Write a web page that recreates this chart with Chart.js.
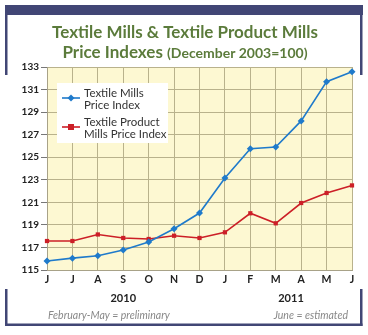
<!DOCTYPE html>
<html>
<head>
<meta charset="utf-8">
<script src="https://cdn.jsdelivr.net/npm/chart.js@4.4.1/dist/chart.umd.min.js"></script>
<style>
  html, body { margin: 0; padding: 0; background: #fff; }
  #wrap { position: relative; width: 368px; height: 335px; }
</style>
</head>
<body>
<div id="wrap"><canvas id="priceChart" width="368" height="335"></canvas></div>
<script>
// June 2010 - June 2011
const months = ['J', 'J', 'A', 'S', 'O', 'N', 'D', 'J', 'F', 'M', 'A', 'M', 'J'];
const textileMills = [115.8, 116.05, 116.27, 116.77, 117.48, 118.66, 120.05, 123.15, 125.75, 125.9, 128.22, 131.7, 132.58];
const textileProductMills = [117.57, 117.57, 118.15, 117.84, 117.75, 118.04, 117.84, 118.34, 120.03, 119.14, 120.94, 121.83, 122.5];
const yTicks = [115, 117, 119, 121, 123, 125, 127, 129, 131, 133];

const seriesNames = [['Textile Mills', 'Price Index'], ['Textile Product', 'Mills Price Index']];
const years = [{ label: '2010', at: 3 }, { label: '2011', at: 9.6 }];

const NAVY = '#414675';
const GREEN = '#5b7b3b';
const BLUE = '#1f7acb';
const RED = '#cc1f27';
const GRID = '#b9b28c';

// frame, title, plot background
const decor = {
  id: 'decor',
  beforeDraw(chart) {
    const { ctx, chartArea: a } = chart;
    ctx.save();
    ctx.fillStyle = NAVY;
    ctx.fillRect(5, 5, 358, 10);
    ctx.fillRect(5, 5, 2.5, 70);
    ctx.fillRect(360, 5, 2.5, 70);
    ctx.fillRect(5, 289, 2.5, 37);
    ctx.fillRect(360, 289, 2.5, 37);
    ctx.fillRect(5, 323.5, 357.5, 2.5);

    ctx.fillStyle = '#fdf8d2';
    ctx.fillRect(a.left, a.top, a.right - a.left, a.bottom - a.top);

    ctx.fillStyle = GREEN;
    ctx.textBaseline = 'alphabetic';
    ctx.textAlign = 'center';
    ctx.font = 'bold 17px Lato';
    ctx.fillText('Textile Mills & Textile Product Mills', 185, 38);
    const big = 'Price Indexes ';
    const small = '(December 2003=100)';
    ctx.font = 'bold 17px Lato';
    const w1 = ctx.measureText(big).width;
    ctx.font = 'bold 14px Lato';
    const w2 = ctx.measureText(small).width;
    let x = 185 - (w1 + w2) / 2;
    ctx.textAlign = 'left';
    ctx.font = 'bold 17px Lato';
    ctx.fillText(big, x, 58);
    ctx.font = 'bold 14px Lato';
    ctx.fillText(small, x + w1, 58);
    ctx.restore();
  },
  afterDraw(chart) {
    const { ctx } = chart;
    const xs = chart.scales.x;
    ctx.save();
    // legend box
    ctx.fillStyle = '#ffffff';
    ctx.fillRect(57, 83, 111, 60);
    const colors = [BLUE, RED];
    const rows = [98, 127];
    rows.forEach((y, i) => {
      ctx.strokeStyle = colors[i];
      ctx.lineWidth = 1.6;
      ctx.beginPath();
      ctx.moveTo(62, y);
      ctx.lineTo(80, y);
      ctx.stroke();
      ctx.fillStyle = colors[i];
      if (i === 0) {
        ctx.beginPath();
        ctx.moveTo(71, y - 3.5);
        ctx.lineTo(74.5, y);
        ctx.lineTo(71, y + 3.5);
        ctx.lineTo(67.5, y);
        ctx.closePath();
        ctx.fill();
      } else {
        ctx.fillRect(68, y - 3, 6, 6);
      }
      ctx.fillStyle = '#333';
      ctx.font = '11.5px Lato';
      ctx.textAlign = 'left';
      ctx.textBaseline = 'alphabetic';
      ctx.fillText(seriesNames[i][0], 84, y - 1);
      ctx.fillText(seriesNames[i][1], 84, y + 11);
    });

    // years under the month axis
    ctx.fillStyle = '#222';
    ctx.font = 'bold 11px Lato';
    ctx.textAlign = 'center';
    years.forEach(yr => {
      ctx.fillText(yr.label, xs.getPixelForValue(yr.at), 302);
    });

    ctx.fillStyle = '#888';
    ctx.font = 'italic 10.5px Lato';
    ctx.textAlign = 'left';
    ctx.fillText('February-May = preliminary', 48, 319);
    ctx.textAlign = 'right';
    ctx.fillText('June = estimated', 348, 319);
    ctx.restore();
  }
};

new Chart(document.getElementById('priceChart'), {
  type: 'line',
  data: {
    labels: months,
    datasets: [
      {
        label: seriesNames[0].join(' '),
        data: textileMills,
        borderColor: BLUE,
        backgroundColor: BLUE,
        borderWidth: 1.6,
        pointStyle: 'rectRot',
        pointRadius: 3.5,
        pointBorderWidth: 0,
        tension: 0
      },
      {
        label: seriesNames[1].join(' '),
        data: textileProductMills,
        borderColor: RED,
        backgroundColor: RED,
        borderWidth: 1.6,
        pointStyle: 'rect',
        pointRadius: 3,
        pointBorderWidth: 0,
        tension: 0
      }
    ]
  },
  options: {
    responsive: false,
    animation: false,
    layout: { padding: { left: 0, right: 16, top: 67, bottom: 49 } },
    plugins: {
      legend: { display: false },
      tooltip: { enabled: false }
    },
    scales: {
      x: {
        offset: false,
        grid: { color: GRID, lineWidth: 1, drawTicks: false },
        border: { color: '#a8a288', width: 1 },
        ticks: {
          color: '#222',
          font: { family: 'Lato', weight: 'bold', size: 10.5 },
          padding: 3,
          maxRotation: 0,
          autoSkip: false
        },
        afterFit(scale) { scale.height = 16; }
      },
      y: {
        min: 115,
        max: 133,
        afterBuildTicks(scale) { scale.ticks = yTicks.map(v => ({ value: v })); },
        grid: { color: GRID, lineWidth: 1, tickLength: 6, tickColor: '#777' },
        border: { color: '#a8a288', width: 1 },
        ticks: {
          color: '#222',
          font: { family: 'Lato', weight: 'bold', size: 10 },
          padding: 2
        },
        afterFit(scale) { scale.width = 47; }
      }
    }
  },
  plugins: [decor]
});
</script>
</body>
</html>
